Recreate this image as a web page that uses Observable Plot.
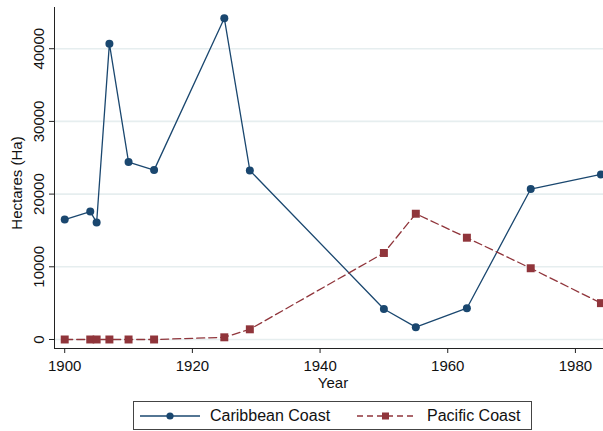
<!DOCTYPE html>
<html>
<head>
<meta charset="utf-8">
<script src="https://cdn.jsdelivr.net/npm/d3@7"></script>
<script src="https://cdn.jsdelivr.net/npm/@observablehq/plot@0.6"></script>
<style>
  html, body { margin: 0; padding: 0; background: white; }
  body { font-family: "Liberation Sans", Arial, sans-serif; }
  #legend { position: relative; width: 603px; height: 33px; }
  #legend .box { position: absolute; left: 133px; top: 3px; width: 397px; height: 27px; border: 1px solid #444; box-sizing: content-box; }
  #legend .item { position: absolute; top: 0; height: 27px; display: flex; align-items: center; font-size: 16px; color: #111; white-space: nowrap; }
  #legend svg { display: block; }
</style>
</head>
<body>
<div id="chart"></div>
<div id="legend"></div>
<script>
const years = [1900, 1904, 1905, 1907, 1910, 1914, 1925, 1929, 1950, 1955, 1963, 1973, 1984];
const caribbean = [16500, 17600, 16100, 40700, 24400, 23300, 44200, 23250, 4200, 1700, 4300, 20700, 22700];
const pacific = [0, 0, 0, 0, 0, 0, 300, 1400, 11900, 17300, 14000, 9800, 5000];
const seriesNames = ["Caribbean Coast", "Pacific Coast"];
const xTicks = [1900, 1920, 1940, 1960, 1980];
const yTicks = [0, 10000, 20000, 30000, 40000];
const xTitle = "Year";
const yTitle = "Hectares (Ha)";

const colors = {"Caribbean Coast": "#1a476f", "Pacific Coast": "#90353b"};
const carib = years.map((y, i) => ({year: y, value: caribbean[i]}));
const pac = years.map((y, i) => ({year: y, value: pacific[i]}));

const xDomain = [1898.4, 1984.4];
const yDomain = [-1240, 45670];

const chart = Plot.plot({
  width: 603,
  height: 398,
  marginLeft: 54,
  marginRight: 0,
  marginTop: 7,
  marginBottom: 50,
  x: {domain: xDomain},
  y: {domain: yDomain},
  style: {fontFamily: "Liberation Sans, Arial, sans-serif", fontSize: "15px", background: "white", color: "#111", overflow: "visible"},
  marks: [
    Plot.gridY(yTicks, {stroke: "#e6eeef", strokeOpacity: 1, strokeWidth: 1.6}),
    Plot.axisX({ticks: xTicks, tickSize: 5, tickPadding: 7, tickFormat: d => String(d), label: null, stroke: "#222", fontSize: 15}),
    Plot.axisY({ticks: yTicks, tickSize: 5, tickFormat: () => "", label: null, stroke: "#222"}),
    Plot.text(yTicks, {y: d => d, text: d => String(d), frameAnchor: "left", rotate: -90, dx: -11, textAnchor: "middle", lineAnchor: "bottom", fontSize: 15, fill: "#111"}),
    Plot.text([xTitle], {frameAnchor: "bottom", text: d => d, dy: 29, dx: 4, lineAnchor: "top", fontSize: 15, fill: "#111"}),
    Plot.text([yTitle], {frameAnchor: "left", text: d => d, rotate: -90, dx: -37, dy: 5, lineAnchor: "middle", textAnchor: "middle", fontSize: 15, fill: "#111"}),
    Plot.ruleX([xDomain[0]], {stroke: "#222", strokeWidth: 1}),
    Plot.ruleY([yDomain[0]], {stroke: "#222", strokeWidth: 1}),
    Plot.line(carib, {x: "year", y: "value", stroke: colors["Caribbean Coast"], strokeWidth: 1.3}),
    Plot.line(pac, {x: "year", y: "value", stroke: colors["Pacific Coast"], strokeWidth: 1.3, strokeDasharray: "8,4"}),
    Plot.dot(carib, {x: "year", y: "value", r: 4, fill: colors["Caribbean Coast"], symbol: "circle"}),
    Plot.dot(pac, {x: "year", y: "value", r: 4.5, fill: colors["Pacific Coast"], symbol: "square"})
  ]
});
document.getElementById("chart").appendChild(chart);

// Legend
const legend = d3.select("#legend");
const box = legend.append("div").attr("class", "box");
const items = [
  {name: seriesNames[0], left: 6, sym: "circle", dash: null},
  {name: seriesNames[1], left: 223, sym: "square", dash: "6,4"}
];
items.forEach(it => {
  const div = box.append("div").attr("class", "item").style("left", it.left + "px");
  const svg = div.append("svg").attr("width", 60).attr("height", 12).style("margin-right", "10px");
  svg.append("line").attr("x1", 0).attr("x2", 60).attr("y1", 6).attr("y2", 6)
    .attr("stroke", colors[it.name]).attr("stroke-width", 1.3)
    .attr("stroke-dasharray", it.dash);
  if (it.sym === "circle") {
    svg.append("circle").attr("cx", 30).attr("cy", 6).attr("r", 3.6).attr("fill", colors[it.name]);
  } else {
    svg.append("rect").attr("x", 25).attr("y", 2.5).attr("width", 7).attr("height", 7).attr("fill", colors[it.name]);
  }
  div.append("span").text(it.name);
});
</script>
</body>
</html>
